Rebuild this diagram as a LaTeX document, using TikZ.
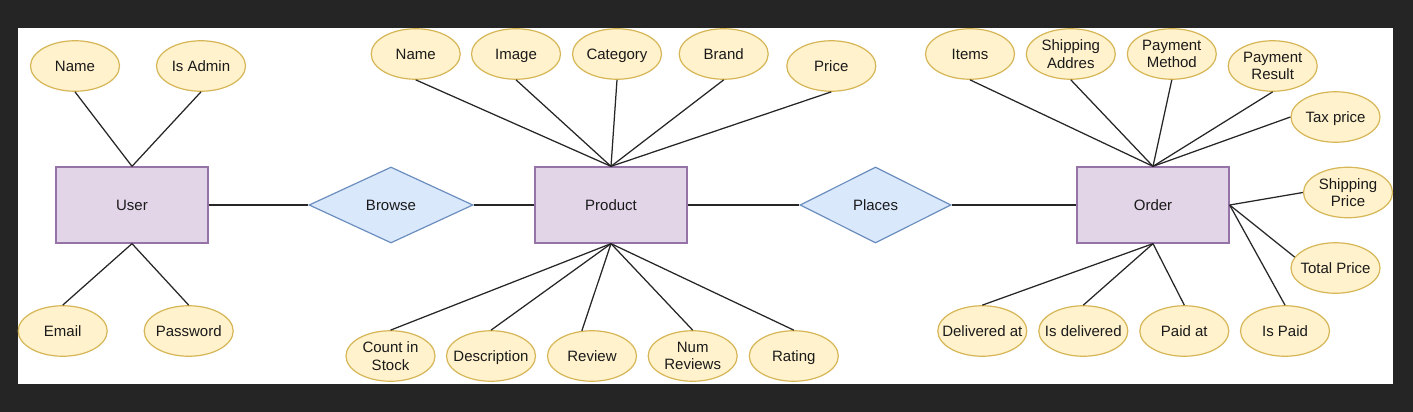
\documentclass[tikz,border=0pt]{standalone}
\usepackage{fontspec}
\setmainfont{Liberation Sans}
\usetikzlibrary{shapes.geometric}
\definecolor{attrfill}{HTML}{FFF2CC}
\definecolor{attrline}{HTML}{D6B656}
\definecolor{entfill}{HTML}{E1D5E7}
\definecolor{entline}{HTML}{9673A6}
\definecolor{relfill}{HTML}{DAE8FC}
\definecolor{relline}{HTML}{6C8EBF}
\definecolor{bgdark}{HTML}{252525}
\definecolor{txt}{HTML}{1A1A1A}
\definecolor{linkc}{HTML}{262626}
\newcommand{\fitw}[1]{\makebox[30pt]{#1}}
\begin{document}
\begin{tikzpicture}[x=1pt,y=-1pt,
  lbl/.style={font=\fontsize{15}{17.5}\selectfont, align=center, text=txt},
  attr/.style={lbl, ellipse, draw=attrline, fill=attrfill, line width=1.2pt, minimum width=89pt, minimum height=50.5pt, inner sep=0pt},
  one/.style={attr, text height=13.7pt, text depth=3pt},
  ent/.style={lbl, rectangle, draw=entline, fill=entfill, line width=1.3pt, minimum width=152pt, minimum height=76pt, inner sep=0pt},
  rel/.style={lbl, diamond, draw=relline, fill=relfill, line width=1.2pt, minimum height=76pt, inner sep=0pt},
  link/.style={draw=linkc, line width=1.25pt}]
\fill[bgdark] (0,0) rectangle (1413,412);
\fill[white] (18,28) rectangle (1393,384);

% entities and relations
\node[ent] (user) at (132,205) {User};
\node[ent] (product) at (611,205) {Product};
\node[ent] (order) at (1153,205) {Order};
\node[rel, minimum width=164pt] (browse) at (391,205) {Browse};
\node[rel, minimum width=151pt] (places) at (875.5,205) {Places};

% user attributes
\node[one] (uname) at (75,66) {Name};
\node[one] (uadmin) at (201,66) {\fitw{Is Admin}};
\node[one] (uemail) at (62.7,331) {Email};
\node[one] (upass) at (188.7,331) {\fitw{Password}};

% product attributes
\node[one] (pname) at (415.7,54) {Name};
\node[one] (pimage) at (516,54) {Image};
\node[one] (pcat) at (617,54) {\fitw{Category}};
\node[one] (pbrand) at (723.7,54) {Brand};
\node[one] (pprice) at (831.3,66) {Price};
\node[attr] (pcount) at (390.5,356) {\fitw{Count in}\\\fitw{Stock}};
\node[one] (pdesc) at (491,356) {\fitw{Description}};
\node[one] (preview) at (592,356) {Review};
\node[attr] (pnum) at (692.7,356) {\fitw{Num}\\\fitw{Reviews}};
\node[one] (prating) at (793.8,356) {Rating};

% order attributes
\node[one] (oitems) at (970,54) {Items};
\node[attr] (oship) at (1070.8,54) {\fitw{Shipping}\\\fitw{Addres}};
\node[attr] (opmeth) at (1171.8,54) {\fitw{Payment}\\\fitw{Method}};
\node[attr] (opres) at (1272.7,66) {\fitw{Payment}\\\fitw{Result}};
\node[one] (otax) at (1335.5,117) {\fitw{Tax price}};
\node[attr] (oshipp) at (1348,192.5) {\fitw{Shipping}\\\fitw{Price}};
\node[one] (ototal) at (1335.5,268) {\fitw{Total Price}};
\node[one] (oispaid) at (1285,331) {Is Paid};
\node[one] (opaidat) at (1184.3,331) {Paid at};
\node[one] (oisdel) at (1083.3,331) {\fitw{Is delivered}};
\node[one] (odelat) at (982.3,331) {\fitw{Delivered at}};

% connectors
\draw[link] (user.east) -- (browse.west);
\draw[link] (browse.east) -- (product.west);
\draw[link] (product.east) -- (places.west);
\draw[link] (places.east) -- (order.west);

\draw[link] (uname.south) -- (user.north);
\draw[link] (uadmin.south) -- (user.north);
\draw[link] (uemail.north) -- (user.south);
\draw[link] (upass.north) -- (user.south);

\foreach \a in {pname,pimage,pcat,pbrand,pprice}
  \draw[link] (\a.south) -- (product.north);
\draw[link] (pcount.north) -- (product.south);
\draw[link] (pdesc.north) -- (product.south);
\draw[link] (preview.112) -- (product.south);
\draw[link] (pnum.north) -- (product.south);
\draw[link] (prating.north) -- (product.south);

\foreach \a in {oitems,oship,opmeth,opres}
  \draw[link] (\a.south) -- (order.north);
\draw[link] (otax.west) -- (order.north);
\draw[link] (oshipp.west) -- (order.east);
\draw[link] (ototal.165) -- (order.east);
\draw[link] (oispaid.north) -- (order.east);
\draw[link] (opaidat.north) -- (order.south);
\draw[link] (oisdel.north) -- (order.south);
\draw[link] (odelat.north) -- (order.south);
\end{tikzpicture}
\end{document}
